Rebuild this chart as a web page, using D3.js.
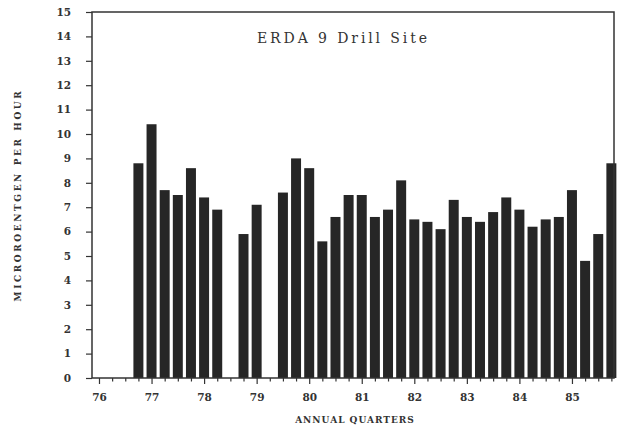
<!DOCTYPE html>
<html>
<head>
<meta charset="utf-8">
<script src="https://cdn.jsdelivr.net/npm/d3@7"></script>
<style>
  body { margin: 0; background: #fff; }
  svg { display: block; }
  .tick text { font-family: "DejaVu Serif", serif; font-weight: bold; font-size: 10.5px; fill: #333; }
  .domain { display: none; }
  .tick line { stroke: #333; stroke-width: 1.2; }
</style>
</head>
<body>
<svg width="619" height="430"></svg>
<script>
const svg = d3.select("svg");

// quarter positions (year + fraction) and measured values
const quarters = [76.75, 77, 77.25, 77.5, 77.75, 78, 78.25, 78.5, 78.75, 79, 79.25, 79.5,
  79.75, 80, 80.25, 80.5, 80.75, 81, 81.25, 81.5, 81.75, 82, 82.25, 82.5, 82.75,
  83, 83.25, 83.5, 83.75, 84, 84.25, 84.5, 84.75, 85, 85.25, 85.5, 85.75];
const values = [8.8, 10.4, 7.7, 7.5, 8.6, 7.4, 6.9, 0, 5.9, 7.1, 0, 7.6,
  9.0, 8.6, 5.6, 6.6, 7.5, 7.5, 6.6, 6.9, 8.1, 6.5, 6.4, 6.1, 7.3,
  6.6, 6.4, 6.8, 7.4, 6.9, 6.2, 6.5, 6.6, 7.7, 4.8, 5.9, 8.8];
const yearTicks = [76, 77, 78, 79, 80, 81, 82, 83, 84, 85];
const yTicks = [0, 1, 2, 3, 4, 5, 6, 7, 8, 9, 10, 11, 12, 13, 14, 15];

const title = "ERDA 9 Drill Site";
const xTitle = "ANNUAL QUARTERS";
const yTitle = "MICROROENTGEN PER HOUR";

const plot = {left: 92, right: 614, top: 12, bottom: 378};

const x = d3.scaleLinear()
  .domain([75.867, 85.8])
  .range([plot.left, plot.right]);

const y = d3.scaleLinear()
  .domain([0, 15])
  .range([plot.bottom, plot.top]);

const barW = (x(0.25) - x(0)) * 0.76;

// bars
svg.append("g")
  .attr("class", "bars")
  .selectAll("rect")
  .data(quarters.map((q, i) => ({q, v: values[i]})))
  .join("rect")
    .attr("x", d => x(d.q) - barW / 2)
    .attr("width", barW)
    .attr("y", d => y(d.v))
    .attr("height", d => y(0) - y(d.v))
    .attr("fill", "#262626");

// minor quarter ticks
const quarterTicks = d3.range(76, 85.8, 0.25).filter(t => !yearTicks.includes(t));
svg.append("g")
  .attr("transform", `translate(0,${plot.bottom})`)
  .call(d3.axisBottom(x).tickValues(quarterTicks).tickSize(3.5).tickFormat(""));

// year ticks with labels
svg.append("g")
  .attr("transform", `translate(0,${plot.bottom})`)
  .call(d3.axisBottom(x).tickValues(yearTicks).tickSize(6).tickPadding(10).tickFormat(d3.format("d")));

svg.append("g")
  .attr("transform", `translate(${plot.left},0)`)
  .call(d3.axisLeft(y).tickValues(yTicks).tickSize(6).tickPadding(15).tickFormat(d3.format("d")));

// frame
svg.append("rect")
  .attr("x", plot.left)
  .attr("y", plot.top)
  .attr("width", plot.right - plot.left)
  .attr("height", plot.bottom - plot.top)
  .attr("fill", "none")
  .attr("stroke", "#333")
  .attr("stroke-width", 1.5);

// titles
svg.append("text")
  .attr("x", 257)
  .attr("y", 43)
  .attr("font-family", "DejaVu Serif, serif")
  .attr("font-size", 14)
  .attr("textLength", 170)
  .attr("lengthAdjust", "spacing")
  .attr("fill", "#333")
  .text(title);

svg.append("text")
  .attr("x", 355)
  .attr("y", 423)
  .attr("text-anchor", "middle")
  .attr("font-family", "DejaVu Serif, serif")
  .attr("font-weight", "bold")
  .attr("font-size", 9)
  .attr("letter-spacing", 1)
  .attr("fill", "#333")
  .text(xTitle);

svg.append("text")
  .attr("transform", "translate(21,195) rotate(-90)")
  .attr("text-anchor", "middle")
  .attr("font-family", "DejaVu Serif, serif")
  .attr("font-weight", "bold")
  .attr("font-size", 9)
  .attr("letter-spacing", 2.6)
  .attr("fill", "#333")
  .text(yTitle);
</script>
</body>
</html>
